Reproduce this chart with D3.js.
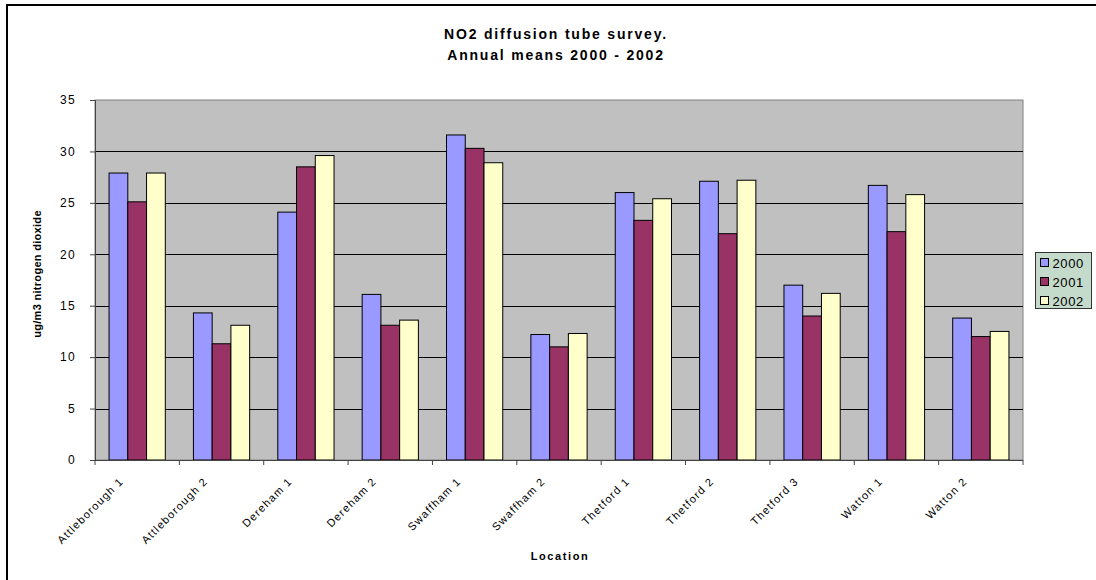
<!DOCTYPE html>
<html>
<head>
<meta charset="utf-8">
<script src="https://cdn.jsdelivr.net/npm/d3@7/dist/d3.min.js"></script>
<style>
  html, body { margin: 0; padding: 0; background: #fff; }
  svg { display: block; font-family: Arial, "Liberation Sans", sans-serif; }
</style>
</head>
<body>
<svg id="chart" width="1096" height="580"></svg>
<script>
// NO2 annual means per monitoring location
const locations = ["Attleborough 1", "Attleborough 2", "Dereham 1", "Dereham 2", "Swaffham 1",
  "Swaffham 2", "Thetford 1", "Thetford  2", "Thetford 3", "Watton 1", "Watton 2"];
const years = ["2000", "2001", "2002"];
const values2000 = [27.9, 14.3, 24.1, 16.1, 31.6, 12.2, 26.0, 27.1, 17.0, 26.7, 13.8];
const values2001 = [25.1, 11.3, 28.5, 13.1, 30.3, 11.0, 23.3, 22.0, 14.0, 22.2, 12.0];
const values2002 = [27.9, 13.1, 29.6, 13.6, 28.9, 12.3, 25.4, 27.2, 16.2, 25.8, 12.5];
const yTicks = [0, 5, 10, 15, 20, 25, 30, 35];
const colors = ["#9999FF", "#993366", "#FFFFCC"];

const seriesValues = [values2000, values2001, values2002];
const rows = locations.map((loc, i) => ({
  loc,
  vals: years.map((yr, j) => ({ yr, v: seriesValues[j][i], j }))
}));

const svg = d3.select("#chart");
const plot = { left: 95, right: 1023, top: 100, bottom: 460 };

// outer frame (only top/left edges fall inside the canvas)
svg.append("rect").attr("x", 7).attr("y", 5).attr("width", 1200).attr("height", 700)
  .attr("fill", "none").attr("stroke", "#000").attr("stroke-width", 2);

const x = d3.scaleBand().domain(locations).range([plot.left, plot.right]).paddingInner(0).paddingOuter(0);
const barW = x.bandwidth() / 4.5;
const x1 = d3.scaleBand().domain(years)
  .range([x.bandwidth() / 2 - 1.5 * barW, x.bandwidth() / 2 + 1.5 * barW]);
const y = d3.scaleLinear().domain([0, 35]).range([plot.bottom, plot.top]);

// plot background
svg.append("rect").attr("x", plot.left).attr("y", plot.top)
  .attr("width", plot.right - plot.left).attr("height", plot.bottom - plot.top)
  .attr("fill", "#C0C0C0").attr("stroke", "#808080").attr("stroke-width", 1);

// horizontal gridlines
svg.append("g").selectAll("line").data(yTicks.filter(t => t > 0 && t < 35)).join("line")
  .attr("x1", plot.left).attr("x2", plot.right)
  .attr("y1", d => Math.round(y(d)) + 0.5).attr("y2", d => Math.round(y(d)) + 0.5)
  .attr("stroke", "#000").attr("stroke-width", 1);

// bars
const groups = svg.append("g").selectAll("g").data(rows).join("g")
  .attr("transform", d => `translate(${x(d.loc)},0)`);
groups.selectAll("rect").data(d => d.vals).join("rect")
  .attr("x", d => x1(d.yr))
  .attr("y", d => y(d.v))
  .attr("width", x1.bandwidth())
  .attr("height", d => y(0) - y(d.v))
  .attr("fill", d => colors[d.j])
  .attr("stroke", "#000").attr("stroke-width", 1);

// y axis
const yAxis = d3.axisLeft(y).tickValues(yTicks).tickSize(5).tickPadding(14);
const gy = svg.append("g").attr("transform", `translate(${plot.left},0)`).call(yAxis);
gy.select(".domain").attr("stroke", "#444");
gy.selectAll(".tick line").attr("stroke", "#444");
gy.selectAll(".tick text").attr("font-size", 12).attr("letter-spacing", "1.3px")
  .attr("fill", "#000").attr("font-family", "Arial, 'Liberation Sans', sans-serif");

// x axis: ticks fall on category boundaries
const boundaries = locations.map(l => x(l)).concat([plot.right]);
const gx = svg.append("g");
gx.append("line").attr("x1", plot.left).attr("x2", plot.right)
  .attr("y1", plot.bottom + 0.5).attr("y2", plot.bottom + 0.5).attr("stroke", "#444");
gx.selectAll("line.tk").data(boundaries).join("line").attr("class", "tk")
  .attr("x1", d => d).attr("x2", d => d)
  .attr("y1", plot.bottom).attr("y2", plot.bottom + 5).attr("stroke", "#444");
gx.selectAll("text").data(locations).join("text")
  .attr("transform", d => `translate(${x(d) + x.bandwidth() / 2 - 13},${plot.bottom + 22}) rotate(-45)`)
  .attr("text-anchor", "end")
  .attr("font-size", 11).attr("letter-spacing", "1.2px")
  .text(d => d);

// titles
const title = svg.append("text").attr("text-anchor", "middle")
  .attr("font-size", 14).attr("font-weight", "bold").attr("letter-spacing", "1.8px");
title.append("tspan").attr("x", 556).attr("y", 39).text("NO2 diffusion tube survey.");
title.append("tspan").attr("x", 556).attr("y", 60).text("Annual means 2000 - 2002");

svg.append("text").attr("x", 560).attr("y", 560).attr("text-anchor", "middle")
  .attr("font-size", 11).attr("font-weight", "bold").attr("letter-spacing", "1.6px")
  .text("Location");

svg.append("text").attr("transform", "translate(41,274) rotate(-90)").attr("text-anchor", "middle")
  .attr("font-size", 11).attr("font-weight", "bold").attr("letter-spacing", "0.3px")
  .text("ug/m3 nitrogen dioxide");

// legend
const lg = svg.append("g").attr("transform", "translate(1035.5,252.5)");
lg.append("rect").attr("width", 56).attr("height", 56)
  .attr("fill", "#C4DACB").attr("stroke", "#333").attr("stroke-width", 1);
const items = lg.selectAll("g").data(years).join("g")
  .attr("transform", (d, i) => `translate(5,${10 + i * 19})`);
items.append("rect").attr("x", 0).attr("y", -4).attr("width", 8).attr("height", 8)
  .attr("fill", (d, i) => colors[i]).attr("stroke", "#000");
items.append("text").attr("x", 12).attr("y", 5).attr("font-size", 13).attr("letter-spacing", "0.6px")
  .text(d => d);
</script>
</body>
</html>
